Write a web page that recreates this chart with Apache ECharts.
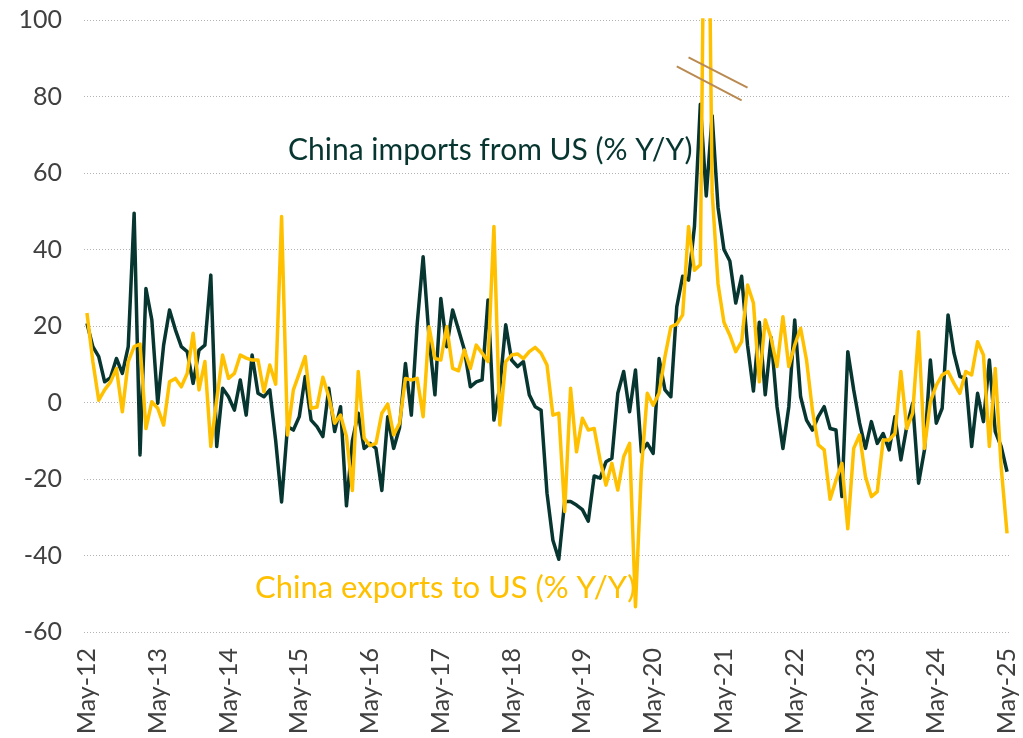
<!DOCTYPE html>
<html>
<head>
<meta charset="utf-8">
<script src="https://cdn.jsdelivr.net/npm/echarts@6/dist/echarts.min.js"></script>
<style>
  html, body { margin: 0; padding: 0; background: #ffffff; }
  #chart { width: 1023px; height: 738px; }
</style>
</head>
<body>
<div id="chart"></div>
<script>
// Monthly year-on-year growth (%), May 2012 to May 2025
const importsFromUS = [
  20.7, 14.6, 12, 5.4, 6.5, 11.5, 7.6, 14.6, 49.5, -13.7, 29.8, 21.6,
  -0.2, 15, 24.2, 19, 14.6, 13.3, 5, 13.7, 15, 33.3, -11.5, 3.7,
  1.5, -2, 5.9, -3.3, 12.4, 2.4, 1.5, 3.3, -10, -26, -6.3, -7.2,
  -3.7, 6.8, -4.6, -6.3, -8.9, 3.7, -7.6, -1.1, -27, -10, -2.8, -12,
  -10.7, -12, -23, -3.7, -12, -6.6, 10.2, -3.3, 20.7, 38.1, 17, 2,
  27.2, 14.6, 24.2, 19, 13.7, 4.1, 5.4, 5.9, 26.8, -4.6, 4.1, 20.3,
  11.1, 9.4, 10.7, 2, -1.1, -2, -23.7, -36, -41, -25.9, -25.9, -26.8,
  -28, -31, -19.2, -19.8, -15.5, -14.6, 2.4, 8.1, -2.4, 8.5, -12.9, -10.7,
  -13.3, 11.5, 3.3, 1.5, 25, 33, 32, 46, 78, 54, 75, 51,
  40, 37, 26, 33, 15, 3, 21, 2, 17, -1.1, -12, -1.1,
  21.6, 1.5, -4.6, -7.2, -3.7, -1.1, -6.8, -7.2, -24.6, 13.3, 3.3, -5.4,
  -12, -5, -10.7, -8.1, -12.4, -3.7, -15, -6.3, -0.2, -21.1, -12.4, 11.1,
  -5.4, -1.5, 22.9, 12.9, 6.8, 6.3, -11.5, 2.4, -5, 11.1, -7.6, -11.5,
  -18.1
];
const exportsToUS = [
  23.4, 10.7, 0.6, 3.3, 5.4, 8.9, -2.4, 10.7, 14.6, 15.3, -6.8, 0.2,
  -1.5, -5.9, 5.4, 6.3, 4.1, 7.6, 18.1, 3.3, 10.7, -11.5, 0.7, 12.4,
  6.3, 7.6, 12.4, 11.6, 11.1, 11.1, 2.8, 9.8, 4.8, 48.6, -8.5, 3.3,
  7.6, 12, -1.5, -1.2, 6.6, 1.5, -5.4, -3.3, -8.9, -23, 8.1, -9.3,
  -11.3, -10.7, -2.8, -0.4, -8.5, -5.4, 6.3, 5.9, 6.3, -3.7, 19.8, 11.5,
  11.1, 19.8, 8.9, 8.3, 13.7, 8.9, 15, 12.9, 10.7, 46, -5.9, 10.7,
  12.4, 12.7, 11.5, 13.3, 14.4, 12.9, 9.8, -3.3, -2.8, -28.5, 3.7, -12.9,
  -4.1, -7.2, -6.8, -15, -21.6, -15.9, -22.9, -14.2, -10.7, -53.4, -17.6, 2.4,
  -0.7, 2.4, 12, 19.8, 20.5, 22.9, 46, 34.6, 36, 190, 55, 31,
  21, 17.6, 13.3, 15.9, 30.7, 26, 5.4, 21.6, 16.8, 9.4, 22.4, 9.4,
  15, 19.4, 11.1, -2, -11.1, -12.4, -25.3, -20.3, -15.9, -33, -12, -8.5,
  -19.4, -24.6, -23.3, -9.8, -9.8, -8.1, 8.1, -6.8, -2.8, 18.5, -12, 0.2,
  4.5, 7.2, 8.1, 5, 2.4, 8.1, 7.2, 15.9, 12.4, -11.5, 8.9, -16.8,
  -34.2
];

// Month labels, starting May 2012
const monthNames = ['Jan','Feb','Mar','Apr','May','Jun','Jul','Aug','Sep','Oct','Nov','Dec'];
const firstYear = 2012;
const firstMonth = 4;
const months = importsFromUS.map(function (_, k) {
  const m = (firstMonth + k) % 12;
  const y = firstYear + Math.floor((firstMonth + k) / 12);
  return monthNames[m] + '-' + String(y % 100).padStart(2, '0');
});

// Axis-break strokes where the exports line runs off the top of the scale
const breakMarks = [
  [['Sep-20', 87.9], ['Aug-21', 79.0]],
  [['Nov-20', 90.2], ['Sep-21', 82.3]]
];

const seriesNames = ['China imports from US (% Y/Y)', 'China exports to US (% Y/Y)'];

const FONT = 'Lato, "Open Sans", sans-serif';
const chart = echarts.init(document.getElementById('chart'), null, { renderer: 'canvas' });

chart.setOption({
  animation: false,
  backgroundColor: '#ffffff',
  grid: { left: 84, right: 13, top: 20, bottom: 106, containLabel: false },
  xAxis: {
    type: 'category',
    data: months,
    boundaryGap: true,
    axisLine: { show: false },
    axisTick: { show: false },
    axisLabel: {
      interval: 11,
      rotate: 90,
      margin: 16,
      color: '#404040',
      fontSize: 25,
      fontFamily: FONT
    },
    splitLine: { show: false }
  },
  yAxis: {
    type: 'value',
    min: -60,
    max: 100,
    interval: 20,
    axisLine: { show: false },
    axisTick: { show: false },
    axisLabel: {
      margin: 22,
      color: '#404040',
      fontSize: 25,
      fontFamily: FONT
    },
    splitLine: {
      show: true,
      lineStyle: { color: '#b3b3b3', width: 1, type: [1, 2] }
    }
  },
  series: [
    {
      name: seriesNames[0],
      type: 'line',
      data: importsFromUS,
      symbol: 'none',
      lineStyle: { color: '#073631', width: 3.5, join: 'round' },
      z: 2
    },
    {
      name: seriesNames[1],
      type: 'line',
      data: exportsToUS,
      symbol: 'none',
      lineStyle: { color: '#FFC000', width: 3.5, join: 'round' },
      z: 3,
      markLine: {
        silent: true,
        symbol: 'none',
        label: { show: false },
        lineStyle: { color: '#B98A52', width: 2, type: 'solid' },
        data: breakMarks.map(function (p) {
          return [{ coord: p[0] }, { coord: p[1] }];
        })
      }
    }
  ],
  graphic: [
    {
      type: 'text',
      z: 10,
      style: {
        x: 288, y: 150,
        text: seriesNames[0],
        fill: '#073631',
        font: '30px ' + FONT,
        textVerticalAlign: 'middle'
      }
    },
    {
      type: 'text',
      z: 10,
      style: {
        x: 255, y: 588,
        text: seriesNames[1],
        fill: '#FFC000',
        font: '31px ' + FONT,
        textVerticalAlign: 'middle'
      }
    }
  ]
});
</script>
</body>
</html>
